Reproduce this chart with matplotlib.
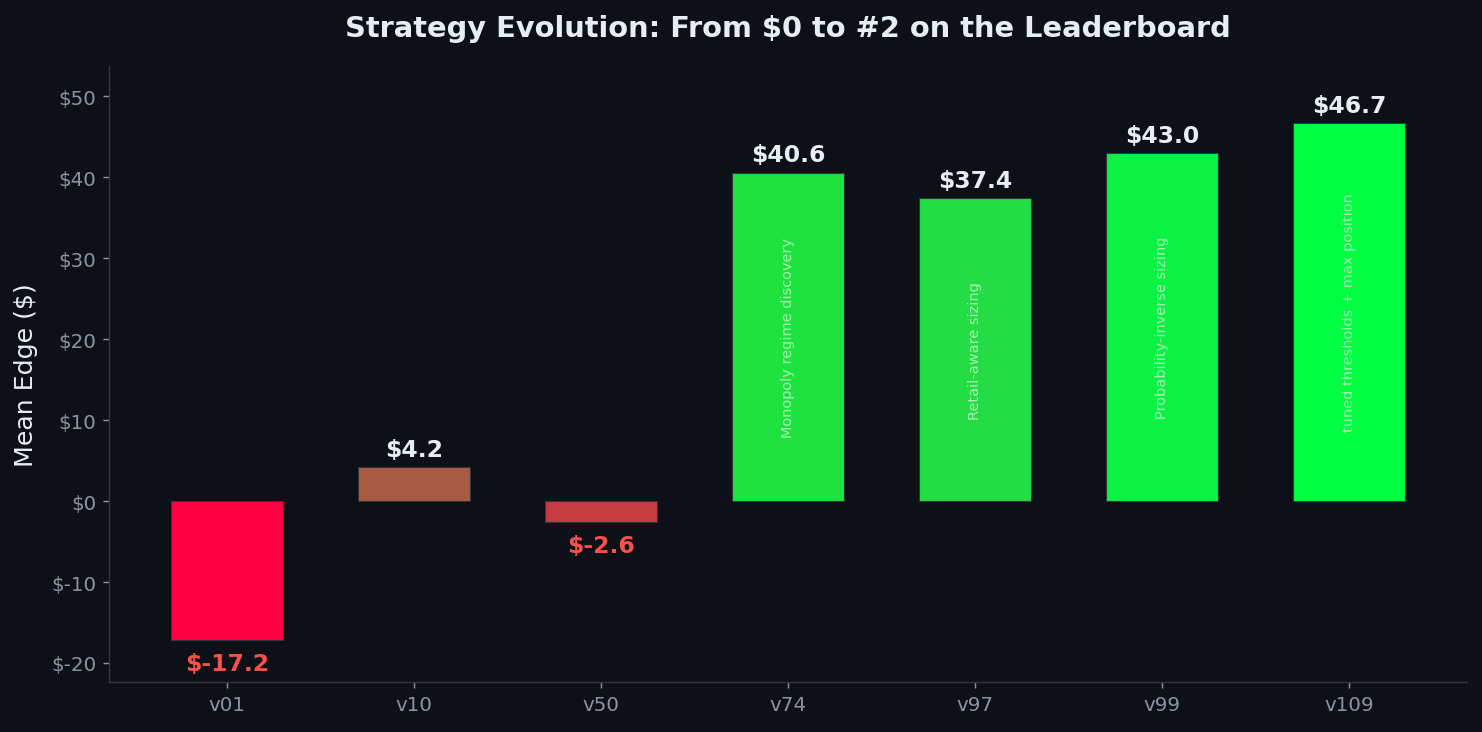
import matplotlib.pyplot as plt

# Datos
versions = ["v01", "v10", "v50", "v74", "v97", "v99", "v109"]
edges = [-17.2, 4.2, -2.6, 40.6, 37.4, 43.0, 46.7]
bar_colors = ["#ff0040", "#a85a42", "#c73a40", "#1ee33e", "#24dc44", "#0af244", "#00ff41"]
notes = ["", "", "", "Monopoly regime discovery", "Retail-aware sizing",
         "Probability-inverse sizing", "tuned thresholds + max position"]

bg = "#0d1117"
fig, ax = plt.subplots(figsize=(11.4, 5.638), dpi=130)
fig.patch.set_facecolor(bg)
ax.set_facecolor(bg)

x = range(len(versions))
ax.bar(x, edges, width=0.6, color=bar_colors, edgecolor="#30363d", linewidth=0.6)

for i, v in enumerate(edges):
    if v >= 0:
        ax.text(i, v + 0.8, f"${v:.1f}", ha="center", va="bottom",
                color="#e6edf3", fontsize=13, fontweight="bold")
    else:
        ax.text(i, v - 1.5, f"${v:.1f}", ha="center", va="top",
                color="#f85149", fontsize=13, fontweight="bold")
    if notes[i]:
        ax.text(i, v / 2, notes[i], rotation=90, ha="center", va="center",
                color="#c9f5d0", alpha=0.8, fontsize=8)

ax.set_xticks(list(x))
ax.set_xticklabels(versions)
ax.set_ylim(min(edges) * 1.3, max(edges) * 1.15)
ax.set_yticks(range(-20, 51, 10))
ax.set_yticklabels([f"${t}" for t in range(-20, 51, 10)])
ax.tick_params(colors="#8b949e", labelsize=11)
for s in ["top", "right"]:
    ax.spines[s].set_visible(False)
for s in ["left", "bottom"]:
    ax.spines[s].set_color("#30363d")

ax.set_ylabel("Mean Edge ($)", color="#e6edf3", fontsize=14, labelpad=7)
ax.set_title("Strategy Evolution: From $0 to #2 on the Leaderboard",
             color="#e6edf3", fontsize=16, fontweight="bold", pad=17)

plt.subplots_adjust(left=0.0735, right=0.99, top=0.908, bottom=0.068)
plt.savefig("out.png", dpi=130, facecolor=bg)
plt.close()
